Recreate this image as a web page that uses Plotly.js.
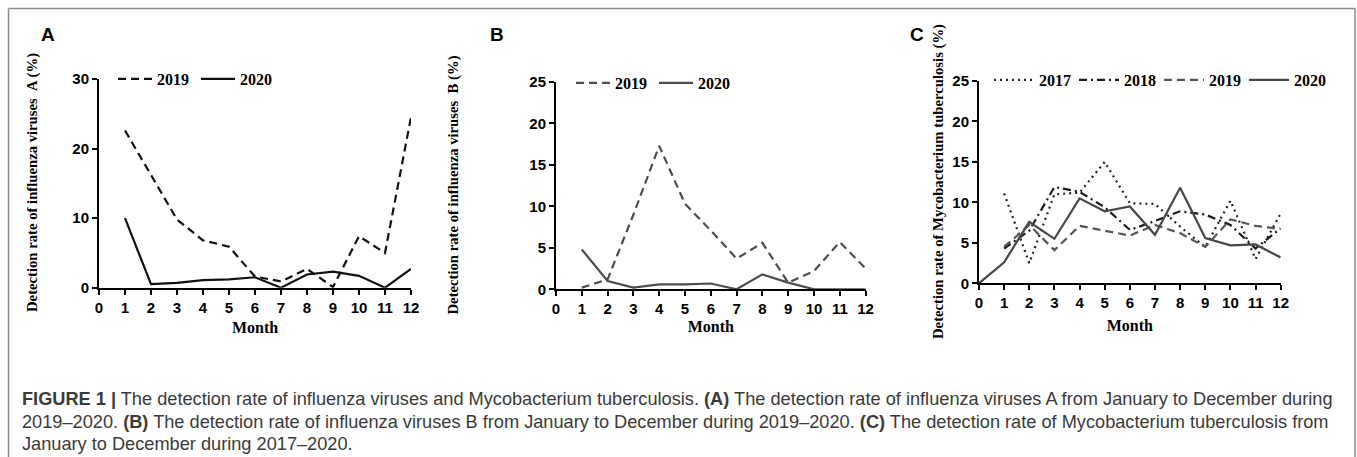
<!DOCTYPE html>
<html>
<head>
<meta charset="utf-8">
<script src="https://cdn.plot.ly/plotly-3.0.1.min.js"></script>
<style>
html,body{margin:0;padding:0;background:#fff;}
#chart{width:1357px;height:457px;}
</style>
</head>
<body>
<div id="chart"></div>
<script>
// ---- data ----
const months = [1,2,3,4,5,6,7,8,9,10,11,12];
const monthsFrom0 = [0,1,2,3,4,5,6,7,8,9,10,11,12];
const monthTicks = [0,1,2,3,4,5,6,7,8,9,10,11,12];

const fluA2019 = [22.6,16.3,9.8,6.8,5.9,1.6,0.9,2.7,0.1,7.4,5.0,24.5];
const fluA2020 = [10.0,0.5,0.7,1.1,1.2,1.5,0.0,1.9,2.3,1.7,0.0,2.7];

const fluB2019 = [0.2,1.2,9.0,17.3,10.3,7.1,3.7,5.6,0.8,2.2,5.7,2.5];
const fluB2020 = [4.8,1.0,0.2,0.6,0.6,0.7,0.0,1.8,0.8,0.0,0.0,0.0];

const tb2017 = [11.1,2.5,11.0,11.2,15.0,9.9,9.8,7.0,4.5,10.2,3.0,8.6];
const tb2018 = [4.3,6.5,11.9,11.3,9.4,6.6,7.7,8.9,8.5,7.2,4.3,6.8];
const tb2019 = [4.5,7.2,4.1,7.1,6.5,5.9,7.2,6.2,4.5,7.9,7.1,6.7];
const tb2020 = [0,2.6,7.6,5.5,10.5,8.9,9.5,6.0,11.8,5.6,4.7,4.8,3.2];

const panelLetters = ['A','B','C'];
const yTitles = ['Detection rate of influenza viruses\u00a0\u00a0A (%)',
                 'Detection rate of influenza viruses\u00a0\u00a0B (%)',
                 'Detection rate of Mycobacterium tuberculosis (%)'];
const xTitle = 'Month';
const captionLines = [
 '<b>FIGURE 1 |</b> The detection rate of influenza viruses and Mycobacterium tuberculosis. <b>(A)</b> The detection rate of influenza viruses A from January to December during',
 '2019\u20132020. <b>(B)</b> The detection rate of influenza viruses B from January to December during 2019\u20132020. <b>(C)</b> The detection rate of Mycobacterium tuberculosis from',
 'January to December during 2017\u20132020.'
];

// ---- layout helpers ----
const W = 1357, H = 457;
const px = v => v / W;
const py = v => 1 - v / H;

const serif = 'Liberation Serif, Times New Roman, serif';
const sans = 'Liberation Sans, Arial, sans-serif';

function xa(d0, d1, anchor, standoff) {
  return {domain:[px(d0), px(d1)], anchor:anchor, range:[0,12], tickvals:monthTicks,
    showline:true, linecolor:'#000', linewidth:2, ticks:'outside', ticklen:5, tickwidth:2, tickcolor:'#000',
    showgrid:false, zeroline:false, fixedrange:true,
    tickfont:{family:sans, size:15, color:'#000', weight:'bold'},
    title:{text:xTitle, font:{family:serif, size:16, color:'#000', weight:'bold'}, standoff:standoff}};
}
function ya(d0, d1, anchor, top, dt) {
  return {domain:[py(d1), py(d0)], anchor:anchor, range:[0,top], dtick:dt, tick0:0,
    showline:true, linecolor:'#000', linewidth:2, ticks:'outside', ticklen:5, tickwidth:2, tickcolor:'#000',
    showgrid:false, zeroline:false, fixedrange:true,
    tickfont:{family:sans, size:15, color:'#000', weight:'bold'}};
}

const legFont = {family:serif, size:16, color:'#000', weight:'bold'};
function leg(x, y, ew, iw) {
  return {x:px(x), y:py(y), xanchor:'left', yanchor:'middle', orientation:'h',
    bgcolor:'rgba(0,0,0,0)', font:legFont, entrywidth:ew, traceorder:'normal', itemwidth:iw};
}

const DASH = '8px,5px', DOT = '2px,4px', DASHDOT = '8px,4px,2px,4px';
const traces = [
  {x:months, y:fluA2019, name:'2019', xaxis:'x', yaxis:'y', legend:'legend', mode:'lines',
   line:{color:'#111', width:2.2, dash:DASH}},
  {x:months, y:fluA2020, name:'2020', xaxis:'x', yaxis:'y', legend:'legend', mode:'lines',
   line:{color:'#111', width:2.2}},
  {x:months, y:fluB2019, name:'2019', xaxis:'x2', yaxis:'y2', legend:'legend2', mode:'lines',
   line:{color:'#4d4d4d', width:2.2, dash:DASH}},
  {x:months, y:fluB2020, name:'2020', xaxis:'x2', yaxis:'y2', legend:'legend2', mode:'lines',
   line:{color:'#4d4d4d', width:2.2}},
  {x:months, y:tb2017, name:'2017', xaxis:'x3', yaxis:'y3', legend:'legend3', mode:'lines',
   line:{color:'#222', width:2.2, dash:DOT}},
  {x:months, y:tb2018, name:'2018', xaxis:'x3', yaxis:'y3', legend:'legend3', mode:'lines',
   line:{color:'#1a1a1a', width:2.2, dash:DASHDOT}},
  {x:months, y:tb2019, name:'2019', xaxis:'x3', yaxis:'y3', legend:'legend3', mode:'lines',
   line:{color:'#555', width:2.2, dash:DASH}},
  {x:monthsFrom0, y:tb2020, name:'2020', xaxis:'x3', yaxis:'y3', legend:'legend3', mode:'lines',
   line:{color:'#474747', width:2.2}}
];

const annotations = [];
const letterPos = [[48,35],[497,35],[917,35]];
panelLetters.forEach((t,i)=>annotations.push({text:'<b>'+t+'</b>', xref:'paper', yref:'paper',
  x:px(letterPos[i][0]), y:py(letterPos[i][1]), xanchor:'center', yanchor:'middle', showarrow:false,
  font:{family:sans, size:19, color:'#000'}}));
const yTitlePos = [[33,183],[453,185.5],[938,182]];
yTitles.forEach((t,i)=>annotations.push({text:t, xref:'paper', yref:'paper', textangle:-90,
  x:px(yTitlePos[i][0]), y:py(yTitlePos[i][1]), xanchor:'center', yanchor:'middle', showarrow:false,
  font:{family:serif, size:14.7, color:'#000', weight:'bold'}}));
const capY = [399,422,444];
captionLines.forEach((t,i)=>annotations.push({text:t, xref:'paper', yref:'paper',
  x:px(20), y:py(capY[i]), xanchor:'left', yanchor:'middle', showarrow:false, align:'left',
  font:{family:sans, size:18.2, color:'#3a3a3a'}}));

const frameLine = {color:'#8a8a8a', width:1.5};
const layout = {
  width:W, height:H, margin:{l:0,r:0,t:0,b:0}, paper_bgcolor:'#fff', plot_bgcolor:'rgba(0,0,0,0)',
  showlegend:true,
  xaxis: xa(99, 411, 'y', 7),  yaxis: ya(79, 287.7, 'x', 30, 10),
  xaxis2: xa(556, 865.6, 'y2', 5), yaxis2: ya(82, 289.3, 'x2', 25, 5),
  xaxis3: xa(979, 1280.7, 'y3', 10), yaxis3: ya(81, 283.3, 'x3', 25, 5),
  legend: leg(113, 79, 34, 34), legend2: leg(571, 83, 34, 34), legend3: leg(989, 80, 30, 40),
  annotations: annotations,
  shapes:[
    {type:'line', xref:'paper', yref:'paper', x0:px(8.5), x1:px(1355), y0:py(8.5), y1:py(8.5), line:frameLine},
    {type:'line', xref:'paper', yref:'paper', x0:px(8.5), x1:px(8.5), y0:py(8.5), y1:py(457), line:frameLine},
    {type:'line', xref:'paper', yref:'paper', x0:px(1355), x1:px(1355), y0:py(8.5), y1:py(457), line:frameLine}
  ]
};

Plotly.newPlot('chart', traces, layout, {displayModeBar:false, staticPlot:true});
</script>
</body>
</html>
